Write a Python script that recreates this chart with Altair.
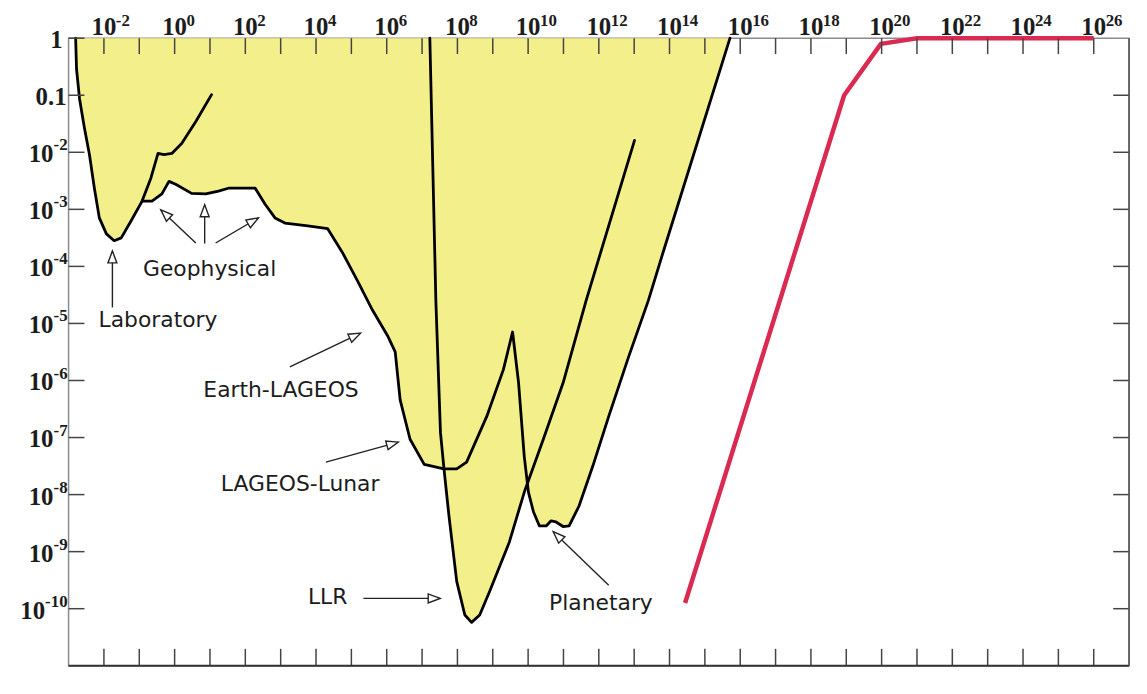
import math
import altair as alt
import pandas as pd

# ---------------- data: log10 exponents ----------------
# Laboratory constraint curve
lab_lx = [-2.80, -2.775, -2.69, -2.55, -2.41, -2.27, -2.13, -1.93, -1.71, -1.51, -1.23,
          -0.92, -0.67, -0.47, -0.30, -0.08, 0.20, 0.60, 1.045]
lab_ly = [0.0, -0.54, -1.06, -1.58, -2.04, -2.63, -3.15, -3.43, -3.55, -3.50, -3.20,
          -2.855, -2.45, -2.02, -2.04, -2.02, -1.845, -1.46, -0.99]

# Geophysical -> Earth-LAGEOS -> LAGEOS-Lunar -> Planetary boundary
geo_lx = [-0.92, -0.64, -0.36, -0.16, 0.03, 0.48, 0.88, 1.24, 1.52, 1.80, 2.28, 2.56, 2.84,
          3.12, 3.77, 4.33, 4.75, 5.17, 5.60, 6.02, 6.24, 6.38, 6.66, 7.06, 7.62, 7.98, 8.26,
          8.83, 9.30, 9.56, 9.73, 9.89, 10.01, 10.15, 10.32, 10.51, 10.65, 10.79, 10.99,
          11.16, 11.44, 11.83, 12.28, 12.84, 13.40, 13.83, 15.71]
geo_ly = [-2.855, -2.855, -2.73, -2.51, -2.56, -2.72, -2.73, -2.68, -2.63, -2.63, -2.63,
          -2.91, -3.15, -3.24, -3.29, -3.34, -3.76, -4.25, -4.77, -5.21, -5.50, -6.34, -7.03,
          -7.47, -7.55, -7.55, -7.43, -6.63, -5.81, -5.15, -6.04, -7.33, -7.96, -8.30, -8.55,
          -8.55, -8.46, -8.48, -8.56, -8.55, -8.20, -7.50, -6.63, -5.59, -4.60, -3.73, 0.0]

# LLR curve
llr_lx = [7.22, 7.39, 7.52, 7.62, 7.76, 7.98, 8.21, 8.40, 8.63, 8.91, 9.47, 9.89, 10.43,
          10.99, 11.64, 13.01]
llr_ly = [0.0, -4.60, -6.91, -7.55, -8.37, -9.52, -10.11, -10.24, -10.11, -9.70, -8.83,
          -7.96, -7.03, -6.04, -4.60, -1.79]

# crossing of the LLR and planetary curves
cross_lx, cross_ly = 9.98, -7.81

# red curve
red_lx = [14.44, 18.94, 19.98, 21.0, 26.0]
red_ly = [-9.90, -1.0, -0.10, 0.0, 0.0]

# annotations
ann_text = ["Laboratory", "Geophysical", "Earth-LAGEOS", "LAGEOS-Lunar", "LLR", "Planetary"]
ann_lx = [-0.47, 0.99, 3.01, 3.55, 4.33, 12.06]
ann_ly = [-4.94, -4.04, -6.16, -7.82, -9.80, -9.90]

arr_lx0 = [-1.76, 0.60, 0.85, 1.16, 3.26, 4.28, 5.34, 12.28]
arr_ly0 = [-4.72, -3.59, -3.60, -3.59, -5.76, -7.43, -9.82, -9.59]
arr_lx1 = [-1.76, -0.39, 0.85, 2.37, 5.26, 6.33, 7.51, 10.71]
arr_ly1 = [-3.73, -3.01, -2.92, -3.15, -5.17, -7.08, -9.82, -8.65]

# axes
x_label_exps = list(range(-2, 27, 2))
x_tick_exps = list(range(-2, 27))
y_tick_exps = list(range(0, -11, -1))

# ---------------- build tables ----------------
W, H = 1068, 632
XMIN, XMAX, YMIN, YMAX = -3, 27, -11, 0
kx = W / (XMAX - XMIN)
ky = H / (YMAX - YMIN)

def p10(v):
    return [10.0 ** a for a in v]

env_lx = lab_lx[:11] + geo_lx[:25] + llr_lx[4:11] + [cross_lx] + geo_lx[32:]
env_ly = lab_ly[:11] + geo_ly[:25] + llr_ly[4:11] + [cross_ly] + geo_ly[32:]
env = pd.DataFrame({"i": list(range(len(env_lx))), "x": p10(env_lx), "y": p10(env_ly)})

rows = []
for name, lxs, lys in [("lab", lab_lx, lab_ly), ("geo", geo_lx, geo_ly), ("llr", llr_lx, llr_ly)]:
    for i, (a, b) in enumerate(zip(lxs, lys)):
        rows.append({"curve": name, "i": i, "x": 10.0 ** a, "y": 10.0 ** b})
curves = pd.DataFrame(rows)

red = pd.DataFrame({"i": list(range(len(red_lx))), "x": p10(red_lx), "y": p10(red_ly)})

ann = pd.DataFrame({"t": ann_text, "x": p10(ann_lx), "y": p10(ann_ly)})

angles = []
for a0, b0, a1, b1 in zip(arr_lx0, arr_ly0, arr_lx1, arr_ly1):
    dxp = (a1 - a0) * kx
    dyp = -(b1 - b0) * ky
    angles.append(math.degrees(math.atan2(dxp, -dyp)) % 360)
arrows = pd.DataFrame({"x0": p10(arr_lx0), "y0": p10(arr_ly0),
                       "x1": p10(arr_lx1), "y1": p10(arr_ly1), "angle": angles})

xt = pd.DataFrame({"x": p10(x_tick_exps)})
yt = pd.DataFrame({"y": p10(y_tick_exps)})
yt_right = pd.DataFrame({"y": p10(y_tick_exps[1:])})
xl = pd.DataFrame({"x": p10(x_label_exps), "b": ["10"] * len(x_label_exps),
                   "e": [str(k) for k in x_label_exps]})

EXP_DIGIT, EXP_MINUS = 8.5, 5.7
yl_rows = []
for k in y_tick_exps:
    if k == 0:
        yl_rows.append({"v": 1.0, "b": "1", "e": "", "bx": -6})
    elif k == -1:
        yl_rows.append({"v": 0.1, "b": "0.1", "e": "", "bx": -2})
    else:
        e = str(k)
        w = sum(EXP_DIGIT if c.isdigit() else EXP_MINUS for c in e)
        yl_rows.append({"v": 10.0 ** k, "b": "10", "e": e, "bx": -1 - w})
yl = pd.DataFrame(yl_rows)

# ---------------- chart ----------------
xs = alt.Scale(type="log", domain=[10.0 ** XMIN, 10.0 ** XMAX])
ys = alt.Scale(type="log", domain=[10.0 ** YMIN, 10.0 ** YMAX])

def X(f):
    return alt.X(f"{f}:Q", scale=xs, axis=None)

def Y(f):
    return alt.Y(f"{f}:Q", scale=ys, axis=None)

YELLOW = "#F3EF8B"
INK = "#1c1c1c"
SERIF = "Liberation Serif"
SANS = "DejaVu Sans"

layers = []
# excluded region: filled polygon along the lower envelope (closed along the top edge)
layers.append(alt.Chart(env).mark_line(fill=YELLOW, stroke=YELLOW, strokeWidth=0.5,
                                       fillOpacity=1).encode(
    x=X("x"), y=Y("y"), order="i:Q"))
layers.append(alt.Chart(curves).mark_line(color="black", strokeWidth=2.8,
                                          strokeJoin="round", strokeCap="round").encode(
    x=X("x"), y=Y("y"), detail="curve:N", order="i:Q"))
layers.append(alt.Chart(red).mark_line(color="#DA2A52", strokeWidth=4.5,
                                       strokeJoin="round").encode(
    x=X("x"), y=Y("y"), order="i:Q"))
layers.append(alt.Chart(arrows).mark_rule(color="#222222", strokeWidth=1.4).encode(
    x=X("x0"), y=Y("y0"), x2=alt.X2("x1:Q"), y2=alt.Y2("y1:Q")))
layers.append(alt.Chart(arrows).mark_point(
    shape="M0,0 L-0.75,2 L0.75,2 Z", filled=True, fill="white", stroke="#222222",
    strokeWidth=1.4, size=144, opacity=1).encode(
    x=X("x1"), y=Y("y1"), angle=alt.Angle("angle:Q", scale=None)))
layers.append(alt.Chart(ann).mark_text(font=SANS, fontSize=22, color=INK,
                                       align="center", baseline="middle").encode(
    x=X("x"), y=Y("y"), text="t:N"))

# ticks (inward)
TICK = "#444444"
layers.append(alt.Chart(xt).mark_rule(color=TICK, strokeWidth=1.5).encode(
    x=X("x"), y=alt.value(0), y2=alt.value(16)))
layers.append(alt.Chart(xt).mark_rule(color=TICK, strokeWidth=1.5).encode(
    x=X("x"), y=alt.value(H - 17), y2=alt.value(H)))
layers.append(alt.Chart(yt).mark_rule(color=TICK, strokeWidth=1.5).encode(
    y=Y("y"), x=alt.value(0), x2=alt.value(16)))
layers.append(alt.Chart(yt_right).mark_rule(color=TICK, strokeWidth=1.5).encode(
    y=Y("y"), x=alt.value(W - 16), x2=alt.value(W)))

# frame lines (bottom darker, right darker)
one = pd.DataFrame({"a": [0]})
layers.append(alt.Chart(one).mark_rule(color="#333333", strokeWidth=2).encode(
    x=alt.value(0), x2=alt.value(W), y=alt.value(H)))
layers.append(alt.Chart(one).mark_rule(color="#555555", strokeWidth=1.6).encode(
    x=alt.value(W), y=alt.value(0), y2=alt.value(H)))

# top tick labels: 10 with superscript exponent
layers.append(alt.Chart(xl).mark_text(font=SERIF, fontWeight="bold", fontSize=25, color=INK,
                                      align="center", baseline="alphabetic").encode(
    x=X("x"), y=alt.value(-3), text="b:N"))
layers.append(alt.Chart(xl).mark_text(font=SERIF, fontWeight="bold", fontSize=17, color=INK,
                                      align="left", baseline="alphabetic", dx=12).encode(
    x=X("x"), y=alt.value(-12), text="e:N"))

# left tick labels
for bx in sorted(yl["bx"].unique()):
    layers.append(alt.Chart(yl).transform_filter(alt.datum.bx == float(bx)).mark_text(
        font=SERIF, fontWeight="bold", fontSize=25, color=INK,
        align="right", baseline="middle", dy=2).encode(
        x=alt.value(float(bx)), y=Y("v"), text="b:N"))
layers.append(alt.Chart(yl).mark_text(font=SERIF, fontWeight="bold", fontSize=17, color=INK,
                                      align="right", baseline="middle", dy=-7).encode(
    x=alt.value(-1), y=Y("v"), text="e:N"))

chart = alt.layer(*layers).properties(
    width=W, height=H,
    autosize=alt.AutoSizeParams(type="none"),
    padding={"left": 61, "top": 28, "right": 10, "bottom": 18},
    background="white",
).configure_view(stroke="#8c8c8c", strokeWidth=1.5)

chart.save("out.html", embed_options={"renderer": "svg", "actions": False})
